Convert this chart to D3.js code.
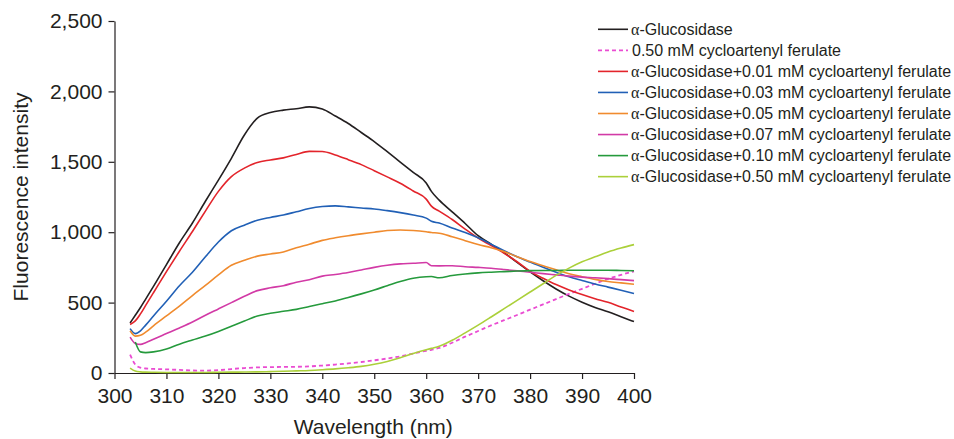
<!DOCTYPE html>
<html>
<head>
<meta charset="utf-8">
<script src="https://cdn.jsdelivr.net/npm/d3@7"></script>
<style>
  body { margin: 0; background: #fff; }
  text { font-family: "Liberation Sans", Arial, sans-serif; fill: #231f20; }
</style>
</head>
<body>
<div id="chart"></div>
<script>
// Wavelength (nm) sampled along the scan
const wavelengths = [303, 304, 305, 306, 307.5, 310, 312.5, 315, 317.5, 320, 322.5, 325, 327.5, 330, 332.5, 335, 337.5, 340, 342.5, 345, 347.5, 350, 352.5, 355, 357.5, 360, 361, 362.5, 365, 367.5, 370, 372.5, 375, 377.5, 380, 382.5, 385, 387.5, 390, 392.5, 395, 397.5, 400];

// Fluorescence intensity of each spectrum
const glucosidase = [355, 410, 465, 525, 615, 770, 925, 1065, 1220, 1370, 1525, 1690, 1810, 1850, 1867, 1877, 1890, 1875, 1825, 1772, 1708, 1644, 1572, 1498, 1425, 1350, 1290, 1228, 1145, 1062, 975, 915, 855, 785, 718, 655, 597, 546, 503, 466, 435, 400, 365];
const cfOnly050 = [130, 60, 38, 32, 29, 26, 22, 18, 17, 20, 28, 35, 40, 42, 43, 44, 47, 53, 60, 68, 78, 90, 103, 118, 138, 158, 165, 178, 215, 258, 298, 338, 375, 412, 450, 487, 525, 562, 598, 634, 668, 697, 722];
const cf001 = [345, 370, 420, 480, 570, 720, 865, 1005, 1150, 1290, 1395, 1455, 1495, 1513, 1528, 1552, 1574, 1573, 1548, 1515, 1480, 1437, 1393, 1348, 1293, 1235, 1185, 1150, 1090, 1022, 958, 905, 850, 790, 722, 673, 628, 590, 557, 528, 502, 468, 437];
const cf003 = [315, 280, 300, 340, 405, 510, 620, 715, 825, 930, 1010, 1050, 1085, 1105, 1122, 1145, 1168, 1182, 1187, 1180, 1172, 1165, 1153, 1139, 1122, 1100, 1078, 1065, 1030, 998, 960, 915, 868, 826, 788, 751, 716, 683, 657, 632, 610, 588, 565];
const cf005 = [300, 262, 268, 290, 335, 405, 475, 550, 622, 697, 765, 800, 830, 845, 860, 890, 915, 942, 960, 975, 988, 1000, 1012, 1016, 1012, 1003, 998, 993, 968, 940, 912, 890, 862, 826, 792, 762, 734, 705, 684, 665, 650, 640, 630];
const cf007 = [255, 210, 203, 215, 240, 280, 320, 362, 410, 455, 500, 545, 585, 605, 620, 645, 662, 688, 700, 714, 732, 750, 765, 775, 779, 785, 762, 761, 762, 755, 750, 744, 735, 725, 716, 706, 697, 688, 681, 676, 670, 663, 656];
const cf010 = [null, 220, 150, 145, 150, 170, 205, 234, 262, 295, 332, 369, 405, 424, 438, 452, 472, 492, 512, 536, 562, 590, 620, 650, 673, 684, 685, 676, 692, 703, 711, 716, 720, 724, 727, 728, 728, 730, 730, 730, 730, 728, 726];
const cf050 = [35, 14, 8, 6, 5, 4, 4, 4, 4, 5, 6, 7, 8, 10, 12, 15, 18, 23, 29, 37, 47, 62, 82, 108, 138, 165, 175, 190, 232, 285, 340, 398, 457, 516, 575, 634, 693, 745, 790, 825, 860, 888, 912];

// Legend labels (after the alpha sign) and tick values
const seriesLabels = [
    "-Glucosidase",
    "0.50 mM cycloartenyl ferulate",
    "-Glucosidase+0.01 mM cycloartenyl ferulate",
    "-Glucosidase+0.03 mM cycloartenyl ferulate",
    "-Glucosidase+0.05 mM cycloartenyl ferulate",
    "-Glucosidase+0.07 mM cycloartenyl ferulate",
    "-Glucosidase+0.10 mM cycloartenyl ferulate",
    "-Glucosidase+0.50 mM cycloartenyl ferulate"
];
const hasAlpha = [true, false, true, true, true, true, true, true];
const xTicks = [300, 310, 320, 330, 340, 350, 360, 370, 380, 390, 400];
const yTicks = [0, 500, 1000, 1500, 2000, 2500];

const seriesValues = [glucosidase, cfOnly050, cf001, cf003, cf005, cf007, cf010, cf050];
const colors = ["#231f20", "#ea4cd2", "#e3242b", "#2160b6", "#f08b2e", "#d23aa6", "#259a3c", "#abd03a"];
const dashes = [null, "4,3", null, null, null, null, null, null];

let width = 954,
    height = 439;

let margin = {
    top: 21,
    bottom: 66,
    left: 114.5,
    right: 320
};

// Create the SVG container
let svg = d3.select('#chart')
        .append('svg')
        .attr('width', width)
        .attr('height', height)
        .style('background', '#fff');

// Scales
let xScale = d3.scaleLinear()
            .domain([300, 400])
            .range([margin.left, width - margin.right]);

let yScale = d3.scaleLinear()
            .domain([0, 2500])
            .range([height - margin.bottom, margin.top]);

// Axes
let xAxis = svg.append('g')
                .attr('transform', `translate(0, ${height - margin.bottom})`)
                .call(d3.axisBottom(xScale).tickValues(xTicks).tickSize(6).tickSizeOuter(0).tickPadding(9));

let yAxis = svg.append('g')
                .attr('transform', `translate(${margin.left}, 0)`)
                .call(d3.axisLeft(yScale).tickValues(yTicks).tickFormat(d3.format(",")).tickSize(6).tickSizeOuter(0).tickPadding(6));

svg.selectAll('.domain, .tick line')
    .attr('stroke', '#231f20')
    .attr('stroke-width', 1.2);

svg.selectAll('.tick text')
    .style('font-size', '21px')
    .style('font-family', '"Liberation Sans", Arial, sans-serif')
    .attr('fill', '#231f20');

// Axis titles
svg.append('text')
    .attr('x', xScale(350) - 1)
    .attr('y', 434)
    .text('Wavelength (nm)')
    .style('font-size', '21px')
    .style('text-anchor', 'middle');

svg.append('text')
    .attr('transform', 'translate(27.5, 197) rotate(-90)')
    .text('Fluorescence intensity')
    .style('font-size', '21px')
    .style('text-anchor', 'middle');

// Lines
const line = d3.line()
    .defined(d => d[1] != null)
    .x(d => xScale(d[0]))
    .y(d => yScale(d[1]))
    .curve(d3.curveMonotoneX);

seriesValues.forEach((vals, i) => {
    svg.append('path')
        .datum(wavelengths.map((w, j) => [w, vals[j]]))
        .attr('d', line)
        .attr('fill', 'none')
        .attr('stroke', colors[i])
        .attr('stroke-width', dashes[i] ? 1.8 : 1.6)
        .attr('stroke-dasharray', dashes[i])
        .attr('stroke-linejoin', 'round');
});

// Legend
const legend = svg.selectAll('.legend')
    .data(seriesLabels)
    .enter().append('g')
    .attr('class', 'legend')
    .attr('transform', (d, i) => `translate(598, ${29.3 + i * 21.05})`);

legend.append('line')
    .attr('x1', 0)
    .attr('x2', 30)
    .attr('stroke', (d, i) => colors[i])
    .attr('stroke-width', (d, i) => dashes[i] ? 1.8 : 1.6)
    .attr('stroke-dasharray', (d, i) => dashes[i]);

const legendText = legend.append('text')
    .attr('x', (d, i) => hasAlpha[i] ? 33 : 34)
    .attr('dy', '0.35em')
    .style('font-size', '16px');

legendText.filter((d, i) => hasAlpha[i])
    .append('tspan')
    .style('font-family', '"Liberation Serif", "DejaVu Serif", serif')
    .text('\u03b1');

legendText.append('tspan')
    .text(d => d);
</script>
</body>
</html>
